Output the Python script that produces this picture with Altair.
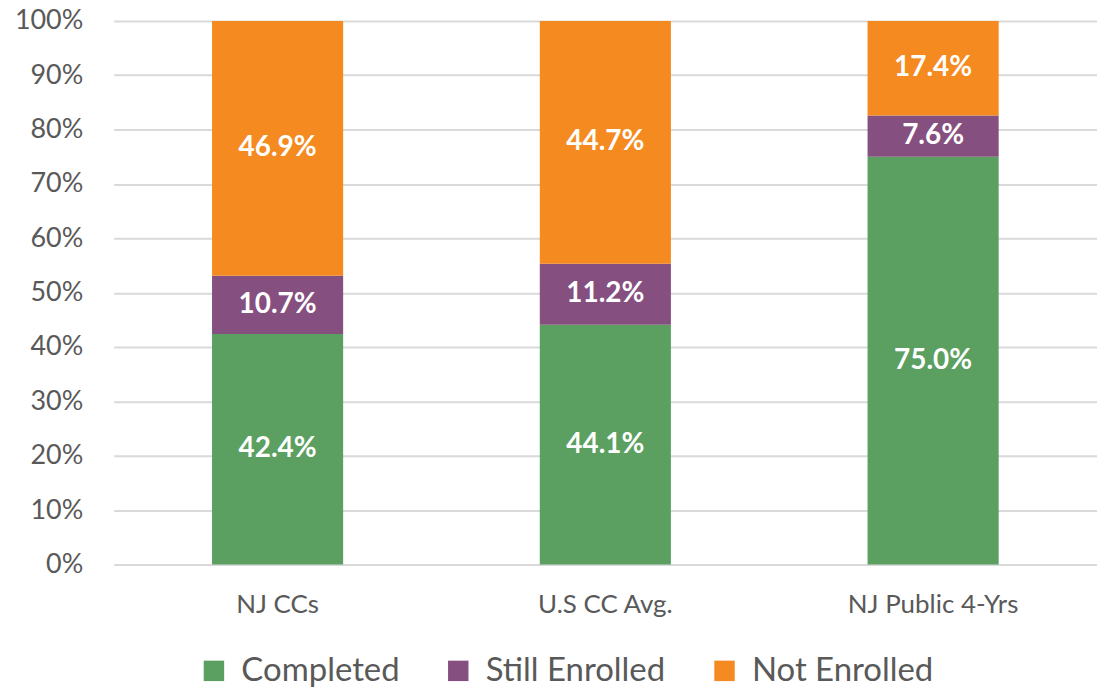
import altair as alt
import pandas as pd

categories = ["NJ CCs", "U.S CC Avg.", "NJ Public 4-Yrs"]
statuses = ["Completed", "Still Enrolled", "Not Enrolled"]
completed = [42.4, 44.1, 75.0]
still_enrolled = [10.7, 11.2, 7.6]
not_enrolled = [46.9, 44.7, 17.4]
colors = ["#5BA060", "#854F80", "#F58A20"]

rows = []
for i, c in enumerate(categories):
    for j, (s, vals) in enumerate(zip(statuses, [completed, still_enrolled, not_enrolled])):
        rows.append({"cat": c, "status": s, "order": j, "value": vals[i]})
df = pd.DataFrame(rows)

FONT = "Lato"

base = alt.Chart(df).transform_stack(
    stack="value", groupby=["cat"], as_=["y0", "y1"], sort=[alt.SortField("order", order="ascending")]
).transform_calculate(
    mid="(datum.y0 + datum.y1) / 2",
    label="format(datum.value, '.1f') + '%'"
)

x = alt.X("cat:N", sort=categories, title=None,
          scale=alt.Scale(paddingInner=0.6, paddingOuter=0.3),
          axis=alt.Axis(labelFont=FONT, labelFontSize=26, labelColor="#595959",
                        labelAngle=0, labelPadding=27, domain=False, ticks=False, grid=False))

bars = base.mark_bar().encode(
    x=x,
    y=alt.Y("y0:Q", scale=alt.Scale(domain=[0, 100], nice=False), title=None,
            axis=alt.Axis(values=list(range(0, 101, 10)), labelExpr="datum.value + '%'",
                          labelFont=FONT, labelFontSize=27, labelColor="#595959",
                          labelPadding=31, domain=False, ticks=False,
                          gridColor="#D9D9D9", gridWidth=2)),
    y2="y1:Q",
    color=alt.Color("status:N", sort=statuses,
                    scale=alt.Scale(domain=statuses, range=colors),
                    legend=alt.Legend(orient="none", legendX=84, legendY=635, direction="horizontal",
                                      title=None, symbolType="square", symbolSize=420,
                                      symbolStrokeWidth=0, labelFont=FONT, labelFontSize=33,
                                      labelColor="#595959", columnPadding=42, labelOffset=11,
                                      labelLimit=400)),
    order=alt.Order("order:Q")
)

labels = base.mark_text(font=FONT, fontSize=28, fontWeight="bold", color="white").encode(
    x=alt.X("cat:N", sort=categories),
    y=alt.Y("mid:Q"),
    text="label:N"
)

chart = alt.layer(bars, labels).properties(
    width=986, height=545,
    autosize=alt.AutoSizeParams(type="none"),
    padding={"left": 106, "top": 12, "right": 0, "bottom": 126}
).configure_view(stroke=None)

chart.save("out.html", embed_options={"renderer": "svg", "actions": False})
